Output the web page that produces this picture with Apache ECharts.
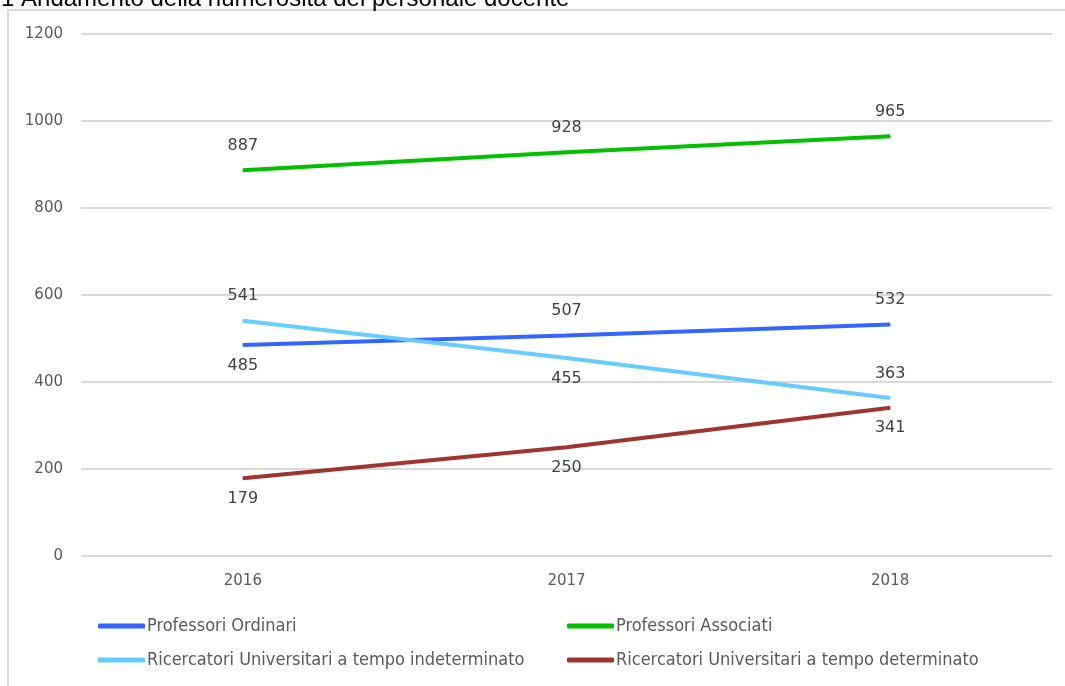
<!DOCTYPE html>
<html>
<head>
<meta charset="utf-8">
<script src="https://cdn.jsdelivr.net/npm/echarts@6/dist/echarts.min.js"></script>
<style>html,body{margin:0;padding:0;background:#fff;}#c{width:1065px;height:686px;}</style>
</head>
<body>
<div id="c"></div>
<script>
const titleText = "2.1 Andamento della numerosità del personale docente";
const categories = ["2016", "2017", "2018"];
const yTicks = [0, 200, 400, 600, 800, 1000, 1200];
const seriesNames = [
  "Professori Ordinari",
  "Professori Associati",
  "Ricercatori Universitari a tempo indeterminato",
  "Ricercatori Universitari a tempo determinato"
];
const ordinari = [485, 507, 532];
const associati = [887, 928, 965];
const ricIndet = [541, 455, 363];
const ricDet = [179, 250, 341];

const colors = ["#3366ff", "#00c000", "#66ccff", "#a0352e"];
const labelPos = [
  ["bottom", "top", "top"],
  ["top", "top", "top"],
  ["top", "bottom", "top"],
  ["bottom", "bottom", "bottom"]
];
const allValues = [ordinari, associati, ricIndet, ricDet];

const chart = echarts.init(document.getElementById('c'));
const series = allValues.map((vals, i) => ({
  name: seriesNames[i],
  type: 'line',
  data: vals.map((v, j) => ({
    value: v,
    label: { position: labelPos[i][j], distance: labelPos[i][j] === 'top' ? 16 : 12 }
  })),
  symbol: 'circle',
  symbolSize: 1,
  showSymbol: true,
  lineStyle: { color: colors[i], width: 4 },
  itemStyle: { color: colors[i] },
  label: {
    show: true,
    color: '#404040',
    fontFamily: 'DejaVu Sans',
    fontSize: 16
  },
  emphasis: { disabled: true },
  z: 3
}));

const legendText = { color: '#595959', fontFamily: '"DejaVu Sans Condensed", "Liberation Sans"', fontSize: 18, padding: [0, 0, 0, -3] };

chart.setOption({
  animation: false,
  grid: { left: 81, right: 13, top: 34, bottom: 130, containLabel: false },
  graphic: [
    { type: 'rect', shape: { x: 8, y: 10, width: 1200, height: 900 },
      style: { fill: 'none', stroke: '#d9d9d9', lineWidth: 2 }, z: -1 },
    { type: 'text', left: -19, top: -13,
      style: { text: titleText, font: '24px "Liberation Sans"', fill: '#000' } }
  ],
  xAxis: {
    type: 'category',
    data: categories,
    boundaryGap: true,
    axisLine: { show: false },
    axisTick: { show: false },
    axisLabel: { color: '#595959', fontFamily: 'DejaVu Sans', fontSize: 15, margin: 18 }
  },
  yAxis: {
    type: 'value',
    min: yTicks[0],
    max: yTicks[yTicks.length - 1],
    interval: yTicks[1] - yTicks[0],
    axisLine: { show: false },
    axisTick: { show: false },
    axisLabel: { color: '#595959', fontFamily: 'DejaVu Sans', fontSize: 15, margin: 18,
      formatter: v => String(v) },
    splitLine: { lineStyle: { color: '#d9d9d9', width: 2 } }
  },
  legend: [
    { data: [seriesNames[0], seriesNames[2]], orient: 'vertical', left: 98, top: 617, padding: 0,
      itemWidth: 47, itemHeight: 5, itemGap: 16, icon: 'roundRect', textStyle: legendText },
    { data: [seriesNames[1], seriesNames[3]], orient: 'vertical', left: 567, top: 617, padding: 0,
      itemWidth: 47, itemHeight: 5, itemGap: 16, icon: 'roundRect', textStyle: legendText }
  ],
  series: series
});
</script>
</body>
</html>
